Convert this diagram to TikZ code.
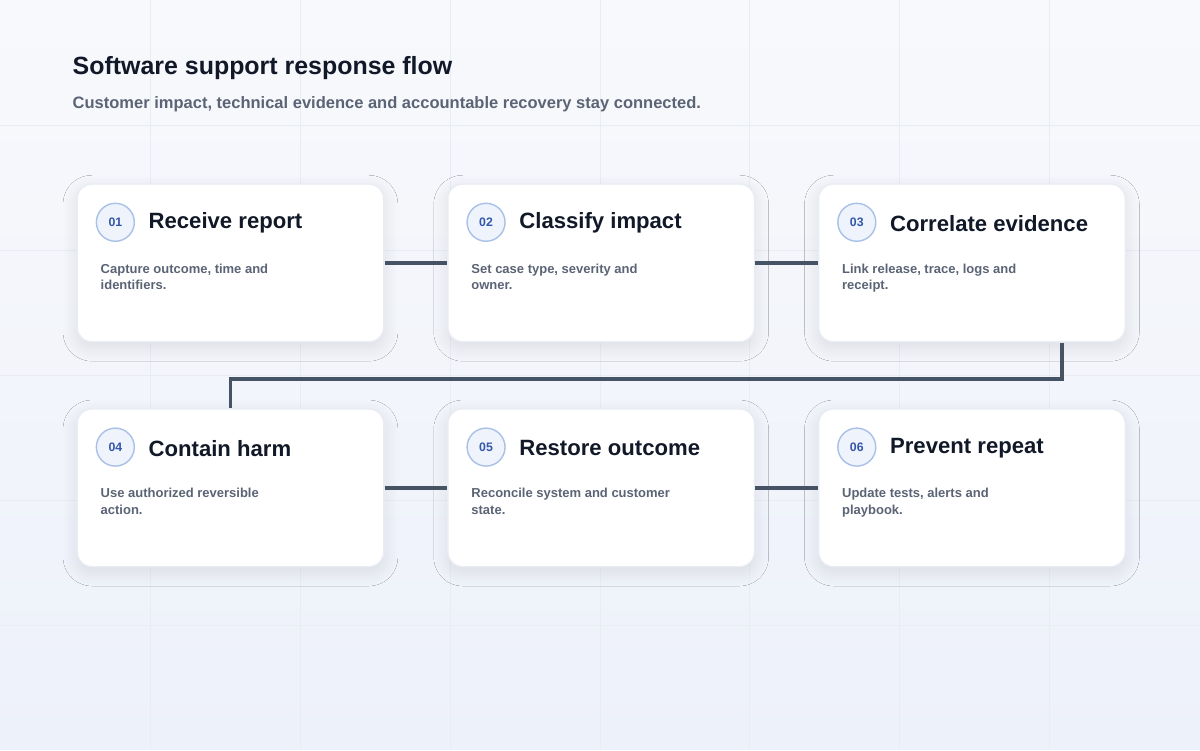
\documentclass[tikz,border=0pt]{standalone}
\usepackage{fontspec}
\setmainfont{Liberation Sans}
\usetikzlibrary{positioning,shadows.blur,calc}
\definecolor{ink}{HTML}{111827}
\definecolor{muted}{HTML}{5B6475}
\definecolor{slate}{HTML}{465365}
\definecolor{ringblue}{HTML}{A9C0E8}
\definecolor{numblue}{HTML}{3557A8}
\definecolor{badgefill}{HTML}{EEF3FC}
\definecolor{bgtop}{HTML}{F8F9FC}
\definecolor{bgbot}{HTML}{EDF1FA}
\definecolor{gridc}{HTML}{E8ECF3}
\begin{document}
\begin{tikzpicture}[x=0.02cm, y=-0.02cm,
        card/.style={draw=gridc, line width=0.8pt, fill=white, rounded corners=0.3cm, anchor=north west,
            minimum width=6.14cm, minimum height=3.16cm,
            blur shadow={shadow blur steps=12, shadow blur radius=8pt, shadow xshift=0pt, shadow yshift=-3pt, shadow opacity=10}},
        badge/.style={circle, draw=ringblue, line width=0.8pt, fill=badgefill, minimum size=0.76cm, inner sep=0pt,
            font=\fontsize{7}{8}\selectfont\bfseries, text=numblue},
        headline/.style={anchor=west, font=\fontsize{12.6}{14}\selectfont\bfseries, text=ink, inner sep=0pt},
        note/.style={anchor=north west, align=left, font=\fontsize{7.4}{9.5}\selectfont\bfseries, text=muted, inner sep=0pt},
        link/.style={draw=slate, line width=2.2pt}
    ]
        % background
        \shade[top color=bgtop, bottom color=bgbot] (0,0) rectangle (1200,750);
        \foreach \gx in {150,300,...,1050} \draw[gridc, line width=0.5pt] (\gx,0) -- (\gx,750);
        \foreach \gy in {125,250,...,625} \draw[gridc, line width=0.5pt] (0,\gy) -- (1200,\gy);
        \useasboundingbox (0,0) rectangle (1200,750);

        % heading
        \node[anchor=west, inner sep=0pt, font=\fontsize{14.2}{16}\selectfont\bfseries, text=ink] (title) at (72,68) {Software support response flow};
        \node[anchor=west, inner sep=0pt, font=\fontsize{9.4}{11}\selectfont\bfseries, text=muted] (subtitle) at (72,104) {Customer impact, technical evidence and accountable recovery stay connected.};

        % cards
        \node[card] (c1) at (76,183) {};
        \node[card] (c2) at (447,183) {};
        \node[card] (c3) at (818,183) {};
        \node[card] (c4) at (76,408) {};
        \node[card] (c5) at (447,408) {};
        \node[card] (c6) at (818,408) {};

        \foreach \c/\n/\t/\d in {c1/01/Receive report/{Capture outcome, time and\\identifiers.},
                                 c2/02/Classify impact/{Set case type, severity and\\owner.},
                                 c3/03/Correlate evidence/{Link release, trace, logs and\\receipt.},
                                 c4/04/Contain harm/{Use authorized reversible\\action.},
                                 c5/05/Restore outcome/{Reconcile system and customer\\state.},
                                 c6/06/Prevent repeat/{Update tests, alerts and\\playbook.}} {
            \node[badge] (\c-num) at ([xshift=0.78cm, yshift=-0.78cm]\c.north west) {\n};
            \node[headline] (\c-title) at ([xshift=1.44cm, yshift=-0.8cm]\c.north west) {\t};
            \node[note] (\c-text) at ([xshift=0.48cm, yshift=-1.6cm]\c.north west) {\d};
        }

        % connectors
        \coordinate (turn) at (229,379);
        \draw[link] (c1.east) -- (c2.west);
        \draw[link] (c2.east) -- (c3.west);
        \draw[link] ([xshift=4.88cm]c3.south west) |- (c4.north |- turn) -- (c4.north);
        \draw[link] (c4.east) -- (c5.west);
        \draw[link] (c5.east) -- (c6.west);
    \end{tikzpicture}
\end{document}
